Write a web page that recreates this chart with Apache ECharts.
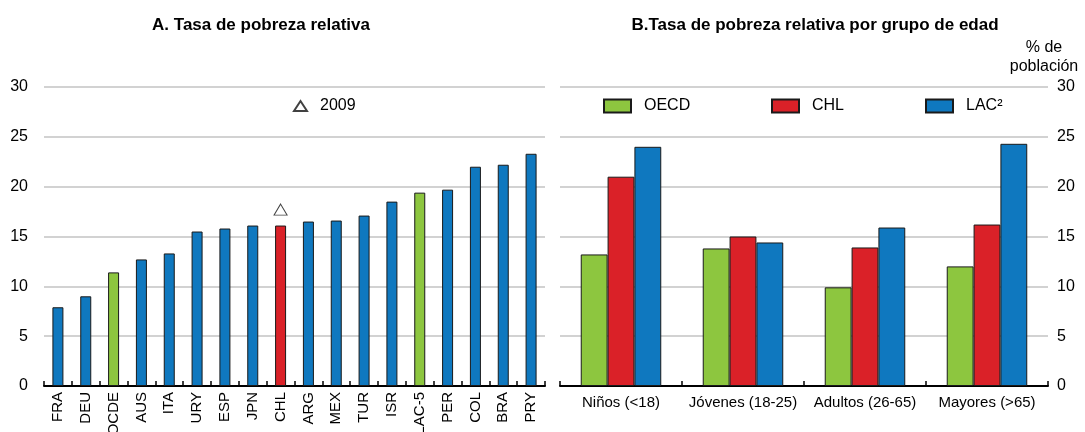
<!DOCTYPE html>
<html>
<head>
<meta charset="utf-8">
<script src="https://cdn.jsdelivr.net/npm/echarts@6/dist/echarts.min.js"></script>
<style>
html,body{margin:0;padding:0;background:#fff;}
#c{width:1085px;height:432px;}
</style>
</head>
<body>
<div id="c"></div>
<script>
// Panel A data
const catsA = ['FRA','DEU','OCDE','AUS','ITA','URY','ESP','JPN','CHL','ARG','MEX','TUR','ISR','LAC-5','PER','COL','BRA','PRY'];
const valsA = [7.9, 9.0, 11.4, 12.7, 13.3, 15.5, 15.8, 16.1, 16.1, 16.5, 16.6, 17.1, 18.5, 19.4, 19.7, 22.0, 22.2, 23.3];
const chl2009Cat = 'CHL';
const chl2009Val = 17.7;
// Panel B data
const catsB = ['Niños (<18)', 'Jóvenes (18-25)', 'Adultos (26-65)', 'Mayores (>65)'];
const oecdB = [13.2, 13.8, 9.9, 12.0];
const chlB  = [21.0, 15.0, 13.9, 16.2];
const lacB  = [24.0, 14.4, 15.9, 24.3];
const yTicks = [0, 5, 10, 15, 20, 25, 30];

const FONT = "'Liberation Sans Narrow', 'Arial Narrow', 'Liberation Sans', Arial, sans-serif";
const BLUE = '#0F78BF', RED = '#DA2128', GREEN = '#8DC63F', EDGE = '#1a1a1a';
const colorA = c => (c === 'CHL' ? RED : (c === 'OCDE' || c === 'LAC-5') ? GREEN : BLUE);

const chart = echarts.init(document.getElementById('c'), null, {renderer: 'canvas'});

const yAxisBase = {
  type: 'value', min: yTicks[0], max: yTicks[yTicks.length - 1], interval: 5,
  axisLine: {show: false}, axisTick: {show: false},
  splitLine: {show: true, lineStyle: {color: '#D2D2D2', width: 2}},
  axisLabel: {fontFamily: FONT, fontSize: 16, color: '#000'}
};
const xAxisBase = {
  type: 'category',
  axisLine: {show: true, lineStyle: {color: '#000', width: 2}},
  axisTick: {show: true, inside: true, length: 5, alignWithLabel: false, lineStyle: {color: '#000', width: 1.5}},
  splitLine: {show: false}
};
const legendBase = {padding: 0, itemWidth: 27, itemHeight: 13, icon: 'rect', top: 98,
  textStyle: {fontFamily: FONT, fontSize: 16, color: '#000', padding: [0, 0, 0, 8]}};

chart.setOption({
  animation: false,
  backgroundColor: '#fff',
  title: [
    {text: 'A. Tasa de pobreza relativa', left: 256, top: 12, textAlign: 'center',
     textStyle: {fontFamily: FONT, fontSize: 17, fontWeight: 'bold', color: '#000'}},
    {text: 'B.Tasa de pobreza relativa por grupo de edad', left: 810, top: 12, textAlign: 'center',
     textStyle: {fontFamily: FONT, fontSize: 17, fontWeight: 'bold', color: '#000'}}
  ],
  graphic: [
    {type: 'text', x: 1044, y: 38, style: {text: '% de\npoblación', align: 'center', verticalAlign: 'top',
      font: '16px ' + FONT, fill: '#000', lineHeight: 19}}
  ],
  legend: [
    Object.assign({}, legendBase, {data: ['2009'], left: 293, top: 98, itemWidth: 13, itemHeight: 10, icon: undefined}),
    Object.assign({}, legendBase, {data: ['OECD'], left: 603}),
    Object.assign({}, legendBase, {data: ['CHL'], left: 771}),
    Object.assign({}, legendBase, {data: ['LAC²'], left: 925})
  ],
  grid: [
    {left: 44, right: 1085 - 545, top: 87, bottom: 432 - 386, containLabel: false, outerBoundsMode: 'none'},
    {left: 560, right: 1085 - 1048, top: 87, bottom: 432 - 386, containLabel: false, outerBoundsMode: 'none'}
  ],
  xAxis: [
    Object.assign({}, xAxisBase, {gridIndex: 0, data: catsA,
      axisLabel: {rotate: 90, interval: 0, margin: 6, fontFamily: FONT, fontSize: 15, color: '#000'}}),
    Object.assign({}, xAxisBase, {gridIndex: 1, data: catsB,
      axisLabel: {interval: 0, margin: 9, fontFamily: FONT, fontSize: 15, color: '#000'}})
  ],
  yAxis: [
    Object.assign({}, yAxisBase, {gridIndex: 0, position: 'left',
      axisLabel: Object.assign({}, yAxisBase.axisLabel, {margin: 16})}),
    Object.assign({}, yAxisBase, {gridIndex: 1, position: 'right',
      axisLabel: Object.assign({}, yAxisBase.axisLabel, {margin: 9})})
  ],
  series: [
    {type: 'bar', name: 'A', xAxisIndex: 0, yAxisIndex: 0, barWidth: 11,
     data: valsA.map((v, i) => ({value: v, itemStyle: {color: colorA(catsA[i])}})),
     itemStyle: {borderColor: EDGE, borderWidth: 1}},
    {type: 'scatter', name: '2009', xAxisIndex: 0, yAxisIndex: 0,
     symbol: 'triangle', symbolSize: [13, 11],
     itemStyle: {color: '#fff', borderColor: '#111', borderWidth: 1},
     data: [[chl2009Cat, chl2009Val]]},
    {type: 'bar', name: 'OECD', xAxisIndex: 1, yAxisIndex: 1, data: oecdB,
     barGap: '0%', barCategoryGap: '34%',
     itemStyle: {color: GREEN, borderColor: EDGE, borderWidth: 1}},
    {type: 'bar', name: 'CHL', xAxisIndex: 1, yAxisIndex: 1, data: chlB,
     barGap: '0%', barCategoryGap: '34%',
     itemStyle: {color: RED, borderColor: EDGE, borderWidth: 1}},
    {type: 'bar', name: 'LAC²', xAxisIndex: 1, yAxisIndex: 1, data: lacB,
     barGap: '0%', barCategoryGap: '34%',
     itemStyle: {color: BLUE, borderColor: EDGE, borderWidth: 1}}
  ]
});
</script>
</body>
</html>
